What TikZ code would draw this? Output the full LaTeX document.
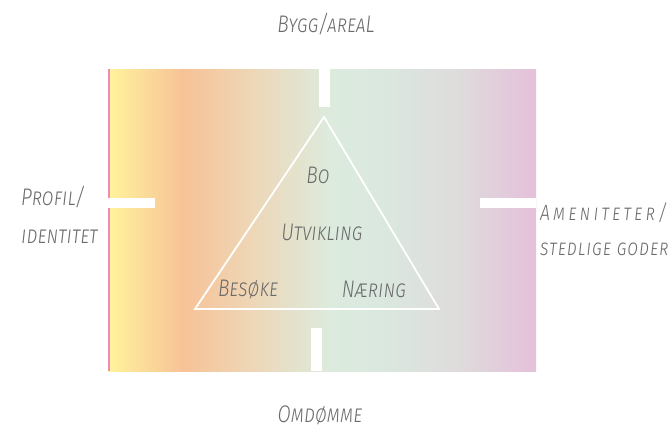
\documentclass[tikz,border=0pt]{standalone}
\usepackage{fontspec}
\newfontfamily\lblfont{Fira Sans Light}[ItalicFont={Fira Sans Light Italic},Letters=SmallCaps,FakeStretch=0.8]
\definecolor{cyellow}{HTML}{FFF29C}
\definecolor{cpeach}{HTML}{F7C297}
\definecolor{ctan}{HTML}{EED6B6}
\definecolor{cmint}{HTML}{DCEBDD}
\definecolor{cmintb}{HTML}{DAE8DF}
\definecolor{cgrey}{HTML}{DEDCDC}
\definecolor{cpink}{HTML}{E5C0DA}
\definecolor{cedge}{HTML}{F08CB4}
\pgfdeclarehorizontalshading{bandshade}{100bp}{color(0bp)=(cyellow); color(25.3bp)=(cyellow);
  color(33.8bp)=(cpeach); color(41.6bp)=(ctan); color(50.9bp)=(cmint); color(56.8bp)=(cmintb);
  color(65.8bp)=(cgrey); color(75bp)=(cpink); color(100bp)=(cpink)}
\tikzset{
  lbl/.style={text=black!58,inner sep=0pt,font=\lblfont\itshape\fontsize{24}{28}\selectfont},
  sidelbl/.style={lbl,anchor=west},
  rightlbl/.style={sidelbl,font=\lblfont\itshape\fontsize{22}{26}\selectfont},
  gap/.style={fill=white}}

\begin{document}
\begin{tikzpicture}[x=1pt,y=-1pt]
    \useasboundingbox (0,0) rectangle (668,428);
    % colour band
    \shade[shading=bandshade] (108,69) rectangle (536,371);
    \draw[cedge,line width=2pt] (109,69) -- (109,371);
    % white gaps
    \fill[gap] (319,69) rectangle (330,107);
    \fill[gap] (311,328) rectangle (322,371);
    \fill[gap] (108,198) rectangle (155,208);
    \fill[gap] (480,198) rectangle (536,208);
    % triangle
    \draw[white,line width=1.8pt,line join=miter] (324,117) -- (439,309) -- (195,309) -- cycle;
    % labels
    \node[lbl] (bygg) at (326,24) {Bygg/areaL};
    \node[sidelbl] (profil) at (21,197) {Profil/};
    \node[sidelbl] (ident) at (21,237) {identitet};
    \node[rightlbl] (amen) at (540,213) {\addfontfeature{LetterSpace=14}Ameniteter/};
    \node[rightlbl] (sted) at (540,249) {\addfontfeature{LetterSpace=4}stedlige goder};
    \node[lbl] (bo) at (318,175) {Bo};
    \node[lbl] (utv) at (322,232) {Utvikling};
    \node[lbl] (besoke) at (248,289) {Besøke};
    \node[lbl] (naering) at (374,289) {Næring};
    \node[lbl] (omd) at (320,415) {Omdømme};
\end{tikzpicture}
\end{document}
